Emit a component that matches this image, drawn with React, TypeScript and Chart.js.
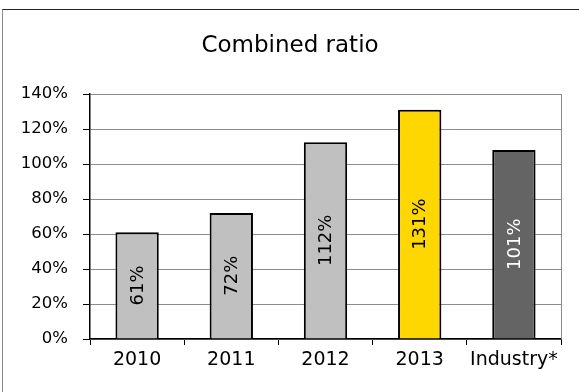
import React, { useEffect, useRef } from "react";
import { Chart, registerables } from "chart.js";

Chart.register(...registerables);

const categories = ["2010", "2011", "2012", "2013", "Industry*"];
const ratioValues = [61, 72, 112.5, 131, 108];
const valueLabels = ["61%", "72%", "112%", "131%", "101%"];
const barColors = ["#C0C0C0", "#C0C0C0", "#C0C0C0", "#FFD700", "#646464"];
const labelColors = ["#000000", "#000000", "#000000", "#000000", "#FFFFFF"];
const titleText = "Combined ratio";

const FONT = "'DejaVu Sans', Verdana, sans-serif";

const decorPlugin = {
  id: "decor",
  beforeDatasetsDraw(chart: any) {
    const { ctx, chartArea } = chart;
    ctx.save();
    ctx.strokeStyle = "#8c8c8c";
    ctx.lineWidth = 1;
    ctx.beginPath();
    ctx.moveTo(Math.round(chartArea.right) + 0.5, chartArea.top);
    ctx.lineTo(Math.round(chartArea.right) + 0.5, chartArea.bottom);
    ctx.stroke();
    ctx.restore();
  },
  afterDatasetsDraw(chart: any) {
    const { ctx } = chart;
    const meta = chart.getDatasetMeta(0);
    ctx.save();
    ctx.font = `18px ${FONT}`;
    ctx.textAlign = "center";
    ctx.textBaseline = "middle";
    meta.data.forEach((bar: any, i: number) => {
      const cx = bar.x;
      const cy = (bar.y + bar.base) / 2;
      ctx.save();
      ctx.translate(cx, cy);
      ctx.rotate(-Math.PI / 2);
      ctx.fillStyle = labelColors[i];
      ctx.fillText(valueLabels[i], 0, 1);
      ctx.restore();
    });
    ctx.restore();
  },
  afterDraw(chart: any) {
    const { ctx } = chart;
    ctx.save();
    ctx.font = `23px ${FONT}`;
    ctx.fillStyle = "#000";
    ctx.textAlign = "center";
    ctx.textBaseline = "middle";
    ctx.fillText(titleText, 290, 46);
    ctx.restore();
  },
};

export default function App() {
  const canvasRef = useRef<HTMLCanvasElement>(null);

  useEffect(() => {
    if (!canvasRef.current) return;
    const chart = new Chart(canvasRef.current, {
      type: "bar",
      data: {
        labels: categories,
        datasets: [
          {
            data: ratioValues,
            backgroundColor: barColors,
            borderColor: "#000",
            borderWidth: 2,
            barPercentage: 0.46,
            categoryPercentage: 1,
          },
        ],
      },
      options: {
        animation: false,
        responsive: false,
        maintainAspectRatio: false,
        layout: { padding: { top: 94, right: 18, bottom: 0, left: 0 } },
        plugins: {
          legend: { display: false },
          tooltip: { enabled: false },
          title: { display: false },
        },
        scales: {
          x: {
            offset: true,
            grid: {
              offset: true,
              drawOnChartArea: false,
              drawTicks: true,
              tickLength: 6,
              tickColor: "#000",
              color: "#000",
            },
            border: { display: true, color: "#000", width: 1.5 },
            ticks: {
              color: "#000",
              font: { family: FONT, size: 19 },
              padding: 4,
              maxRotation: 0,
              autoSkip: false,
            },
            afterFit(scale: any) {
              scale.height = 53;
            },
          },
          y: {
            min: 0,
            max: 140,
            ticks: {
              stepSize: 20,
              color: "#000",
              font: { family: FONT, size: 16.5 },
              padding: 15,
              callback: (v: any) => `${v}%`,
            },
            grid: {
              color: "#8c8c8c",
              tickColor: "#000",
              tickLength: 7,
              lineWidth: 1,
            },
            border: { display: true, color: "#000", width: 1.5 },
            afterFit(scale: any) {
              scale.width = 90;
            },
          },
        },
      },
      plugins: [decorPlugin],
    });
    return () => chart.destroy();
  }, []);

  return (
    <div style={{ position: "absolute", left: 0, top: 0, width: 579, height: 392, background: "#fff" }}>
      <canvas ref={canvasRef} width={579} height={392} style={{ position: "absolute", left: 0, top: 0 }} />
      <div
        style={{
          position: "absolute",
          left: 2,
          top: 9,
          width: 577,
          height: 383,
          borderLeft: "1px solid #8c8c8c",
          borderTop: "1px solid #222",
          boxSizing: "border-box",
          pointerEvents: "none",
        }}
      />
    </div>
  );
}
